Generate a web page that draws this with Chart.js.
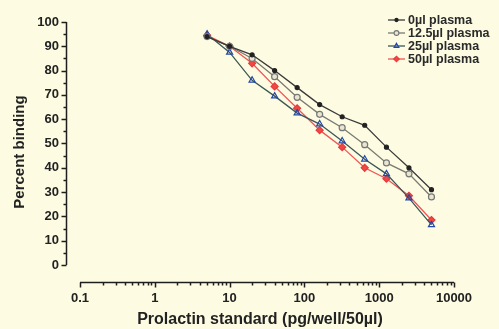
<!DOCTYPE html>
<html>
<head>
<meta charset="utf-8">
<script src="https://cdn.jsdelivr.net/npm/chart.js@4.4.1/dist/chart.umd.min.js"></script>
<style>
  html, body { margin: 0; padding: 0; background: #fdfce3; }
  #wrap { width: 499px; height: 329px; position: relative; }
</style>
</head>
<body>
<div id="wrap"><canvas id="c" width="499" height="329"></canvas></div>
<script>
// ---- data ----
const concentrations = [5, 10, 20, 40, 80, 160, 320, 640, 1250, 2500, 5000];
const plasma0    = [94, 90, 86.5, 80, 73, 66, 61, 57.5, 48.5, 40, 31];
const plasma12_5 = [94, 90, 85, 77.5, 69, 62, 56.5, 49.5, 42, 37.5, 28];
const plasma25   = [95, 87.5, 76, 69.5, 62.5, 58, 51, 43.5, 37.5, 27.5, 16.5];
const plasma50   = [94.5, 90, 83, 73.5, 64.5, 55.5, 48.5, 40, 35.5, 28.5, 18.5];
const seriesNames = ['0\u00b5l plasma', '12.5\u00b5l plasma', '25\u00b5l plasma', '50\u00b5l plasma'];
const xTickValues = [0.1, 1, 10, 100, 1000, 10000];
const yTickValues = [0, 10, 20, 30, 40, 50, 60, 70, 80, 90, 100];

const toPts = arr => concentrations.map((x, i) => ({ x: x, y: arr[i] }));

const styles = [
  { line: '#3a3a3a', pb: '#222', pf: '#222', ps: 'circle', r: 2 },
  { line: '#7a7a72', pb: '#777', pf: '#e8e6d0', ps: 'circle', r: 3 },
  { line: '#3c5656', pb: '#2347a8', pf: 'rgba(0,0,0,0)', ps: 'triangle', r: 3.5 },
  { line: '#f05454', pb: '#e83a3a', pf: '#ee4848', ps: 'rectRot', r: 3.5 }
];
const allSeries = [plasma0, plasma12_5, plasma25, plasma50];

const datasets = allSeries.map((arr, i) => ({
  label: seriesNames[i],
  data: toPts(arr),
  borderColor: styles[i].line,
  borderWidth: 1.3,
  pointStyle: styles[i].ps,
  pointRadius: styles[i].r,
  pointBorderColor: styles[i].pb,
  pointBackgroundColor: styles[i].pf,
  pointBorderWidth: 1.2,
  tension: 0,
  fill: false,
  clip: false
}));

const FONT = '"Liberation Sans", Arial, sans-serif';

function drawAxes(chart) {
  const ctx = chart.ctx;
  const xs = chart.scales.x, ys = chart.scales.y;
  const ca = chart.chartArea;
  ctx.save();
  ctx.setLineDash([]);
  ctx.globalAlpha = 1;
  ctx.strokeStyle = '#1e1e1e';
  ctx.lineWidth = 1.5;
  // y axis
  const yx = Math.round(ca.left) + 0.5;
  const y0 = ys.getPixelForValue(0), y100 = ys.getPixelForValue(100);
  ctx.beginPath();
  ctx.moveTo(yx, y0); ctx.lineTo(yx, y100);
  for (let v = 0; v <= 100; v += 5) {
    const p = Math.round(ys.getPixelForValue(v)) + 0.5;
    const len = (v % 10 === 0) ? 5 : 3;
    ctx.moveTo(yx - len, p); ctx.lineTo(yx, p);
  }
  ctx.stroke();
  // x axis
  const xy = Math.round(ca.bottom) + 0.5;
  const x01 = xs.getPixelForValue(0.1), x1e4 = xs.getPixelForValue(10000);
  ctx.beginPath();
  ctx.moveTo(x01, xy); ctx.lineTo(x1e4, xy);
  const decades = [0.1, 1, 10, 100, 1000];
  decades.forEach(d => {
    for (let m = 1; m <= 9; m++) {
      const p = Math.round(xs.getPixelForValue(d * m)) + 0.5;
      const len = (m === 1) ? 5 : 3;
      ctx.moveTo(p, xy); ctx.lineTo(p, xy + len);
    }
  });
  const pe = Math.round(x1e4) + 0.5;
  ctx.moveTo(pe, xy); ctx.lineTo(pe, xy + 5);
  ctx.stroke();
  ctx.restore();
}

function drawLegend(chart) {
  const ctx = chart.ctx;
  ctx.save();
  const lx0 = 388, lx1 = 405, tx = 408;
  const rows = [20, 33, 46, 59];
  ctx.font = 'bold 12.5px ' + FONT;
  ctx.textBaseline = 'middle';
  ctx.textAlign = 'left';
  rows.forEach((ry, i) => {
    const st = styles[i];
    ctx.strokeStyle = st.line;
    ctx.lineWidth = 1.3;
    ctx.beginPath(); ctx.moveTo(lx0, ry); ctx.lineTo(lx1, ry); ctx.stroke();
    ctx.fillStyle = st.pf; ctx.strokeStyle = st.pb; ctx.lineWidth = 1.1;
    Chart.helpers.drawPoint(ctx, { pointStyle: st.ps, radius: st.r * 0.8, borderWidth: 1.1, rotation: 0 }, (lx0 + lx1) / 2, ry);
    ctx.fillStyle = '#2a2a2a';
    ctx.fillText(seriesNames[i], tx, ry + 0.5);
  });
  ctx.restore();
}

const prismAxes = {
  id: 'prismAxes',
  beforeDatasetsDraw(chart) { drawAxes(chart); },
  afterDatasetsDraw(chart) { drawLegend(chart); }
};

new Chart(document.getElementById('c'), {
  type: 'line',
  data: { datasets },
  plugins: [prismAxes],
  options: {
    responsive: false,
    animation: false,
    devicePixelRatio: 1,
    layout: { padding: { top: 22, right: 45, left: 0, bottom: 0 } },
    plugins: { legend: { display: false }, tooltip: { enabled: false } },
    scales: {
      x: {
        type: 'logarithmic',
        min: 0.065,
        max: 10000,
        afterBuildTicks: s => { s.ticks = xTickValues.map(v => ({ value: v })); },
        afterFit: s => { s.height = 47; },
        grid: { display: false, drawTicks: false },
        border: { display: false },
        ticks: {
          autoSkip: false, maxRotation: 0, padding: 9,
          color: '#222', font: { family: FONT, size: 13, weight: 'bold' },
          callback: v => String(v)
        },
        title: {
          display: true, text: 'Prolactin standard (pg/well/50\u00b5l)',
          color: '#222', font: { family: FONT, size: 16, weight: 'bold' },
          padding: { top: 2, bottom: 0 }
        }
      },
      y: {
        type: 'linear',
        min: -7,
        max: 100,
        afterBuildTicks: s => { s.ticks = yTickValues.map(v => ({ value: v })); },
        afterFit: s => { s.width = 66; },
        grid: { display: false, drawTicks: false },
        border: { display: false },
        ticks: {
          autoSkip: false, padding: 7,
          color: '#222', font: { family: FONT, size: 13, weight: 'bold' }
        },
        title: {
          display: true, text: 'Percent binding',
          color: '#222', font: { family: FONT, size: 15, weight: 'bold' },
          padding: { top: 11, bottom: 0 }
        }
      }
    }
  }
});
</script>
</body>
</html>
